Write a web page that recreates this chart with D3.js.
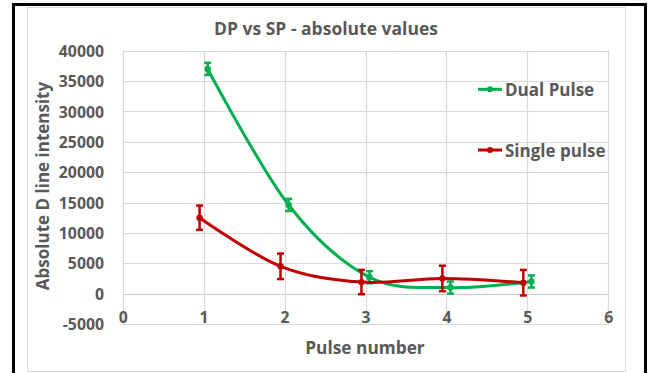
<!DOCTYPE html>
<html>
<head>
<meta charset="utf-8">
<script src="https://cdn.jsdelivr.net/npm/d3@7"></script>
<style>
  html, body { margin: 0; padding: 0; background: #fff; }
  svg { display: block; }
  text { font-family: "Open Sans", "Noto Sans", sans-serif; font-weight: 700; fill: #595959; }
</style>
</head>
<body>
<svg id="chart" width="649" height="373"></svg>
<script>
// Series data
const dualX = [1.05, 2.05, 3.05, 4.05, 5.05];
const dualY = [37000, 14600, 2700, 1000, 2000];
const dualErr = [1000, 1000, 1000, 1000, 1000];

const singleX = [0.95, 1.95, 2.95, 3.95, 4.95];
const singleY = [12500, 4500, 1900, 2500, 1800];
const singleErr = [2000, 2100, 2000, 2100, 2100];

const xTicks = [0, 1, 2, 3, 4, 5, 6];
const yTicks = [-5000, 0, 5000, 10000, 15000, 20000, 25000, 30000, 35000, 40000];

const seriesNames = ["Dual Pulse", "Single pulse"];
const titleText = "DP vs SP - absolute values";
const xTitle = "Pulse number";
const yTitle = "Absolute D line intensity";

const GREEN = "#00B050", RED = "#C00000", GRID = "#D9D9D9";

const svg = d3.select("#chart");

// outer frame and chart area
svg.append("rect").attr("x", 13.5).attr("y", 4.5).attr("width", 632).attr("height", 372)
  .attr("fill", "none").attr("stroke", "#000").attr("stroke-width", 3);
svg.append("rect").attr("x", 27.5).attr("y", 7.5).attr("width", 598).attr("height", 364)
  .attr("fill", "#fff").attr("stroke", GRID).attr("stroke-width", 1);

const x = d3.scaleLinear().domain([0, 6]).range([122.7, 608.3]);
const y = d3.scaleLinear().domain([-5000, 40000]).range([324, 50.7]);

// grid
const grid = svg.append("g");
grid.selectAll(".h").data(yTicks).join("line")
  .attr("x1", x(0)).attr("x2", x(6))
  .attr("y1", d => Math.round(y(d)) + 0.5).attr("y2", d => Math.round(y(d)) + 0.5)
  .attr("stroke", d => d === 0 ? "#C8C8C8" : GRID).attr("stroke-width", 1.2);
grid.selectAll(".v").data(xTicks).join("line")
  .attr("x1", d => Math.round(x(d)) + 0.5).attr("x2", d => Math.round(x(d)) + 0.5)
  .attr("y1", y(40000)).attr("y2", y(-5000))
  .attr("stroke", GRID).attr("stroke-width", 1.2);

// plain hyphen-minus for negative values
const fmt = d => String(d);

// y axis tick labels
const yAxis = d3.axisLeft(y).tickValues(yTicks).tickSize(0).tickPadding(0).tickFormat(fmt);
svg.append("g").attr("transform", `translate(${104},0)`).call(yAxis)
  .call(g => g.select(".domain").remove())
  .selectAll("text").attr("font-size", 15.8).attr("dy", "0.36em")
  .style("font-family", '"Open Sans", sans-serif').attr("fill", "#595959");

// x axis tick labels (axis crosses at y = 0)
const xAxis = d3.axisBottom(x).tickValues(xTicks).tickSize(0).tickPadding(0).tickFormat(fmt);
svg.append("g").attr("transform", `translate(0,${y(0) + 24})`).call(xAxis)
  .call(g => g.select(".domain").remove())
  .selectAll("text").attr("font-size", 15.8).attr("dy", "0.36em")
  .style("font-family", '"Open Sans", sans-serif').attr("fill", "#595959");

// titles
svg.append("text").attr("x", 326).attr("y", 35).attr("text-anchor", "middle")
  .attr("font-size", 17.5).text(titleText);
svg.append("text").attr("x", 365).attr("y", 354).attr("text-anchor", "middle")
  .attr("font-size", 17.3).text(xTitle);
svg.append("text").attr("transform", `translate(49,${186}) rotate(-90)`).attr("text-anchor", "middle")
  .attr("font-size", 17).text(yTitle);

// series
const line = d3.line().x(d => x(d[0])).y(d => y(d[1])).curve(d3.curveCardinal.tension(0));

function drawSeries(xs, ys, errs, color) {
  const pts = xs.map((v, i) => [v, ys[i], errs[i]]);
  const g = svg.append("g");
  g.append("path").datum(pts).attr("d", line).attr("fill", "none")
    .attr("stroke", color).attr("stroke-width", 3);
  const eb = g.selectAll(".eb").data(pts).join("g");
  eb.append("line").attr("x1", d => x(d[0])).attr("x2", d => x(d[0]))
    .attr("y1", d => y(d[1] - d[2])).attr("y2", d => y(d[1] + d[2]))
    .attr("stroke", color).attr("stroke-width", 2.5);
  eb.append("line").attr("x1", d => x(d[0]) - 3.5).attr("x2", d => x(d[0]) + 3.5)
    .attr("y1", d => y(d[1] + d[2])).attr("y2", d => y(d[1] + d[2]))
    .attr("stroke", color).attr("stroke-width", 2.5);
  eb.append("line").attr("x1", d => x(d[0]) - 3.5).attr("x2", d => x(d[0]) + 3.5)
    .attr("y1", d => y(d[1] - d[2])).attr("y2", d => y(d[1] - d[2]))
    .attr("stroke", color).attr("stroke-width", 2.5);
  g.selectAll("circle").data(pts).join("circle")
    .attr("cx", d => x(d[0])).attr("cy", d => y(d[1])).attr("r", 3.2).attr("fill", color);
}
drawSeries(dualX, dualY, dualErr, GREEN);
drawSeries(singleX, singleY, singleErr, RED);

// legend
const legend = [[seriesNames[0], GREEN, 89.3], [seriesNames[1], RED, 150]];
legend.forEach(([name, color, ly]) => {
  svg.append("line").attr("x1", 478).attr("x2", 502).attr("y1", ly).attr("y2", ly)
    .attr("stroke", color).attr("stroke-width", 3);
  svg.append("circle").attr("cx", 490).attr("cy", ly).attr("r", 3).attr("fill", color);
  svg.append("text").attr("x", 505).attr("y", ly + 6.5).attr("font-size", 17).text(name);
});
</script>
</body>
</html>
